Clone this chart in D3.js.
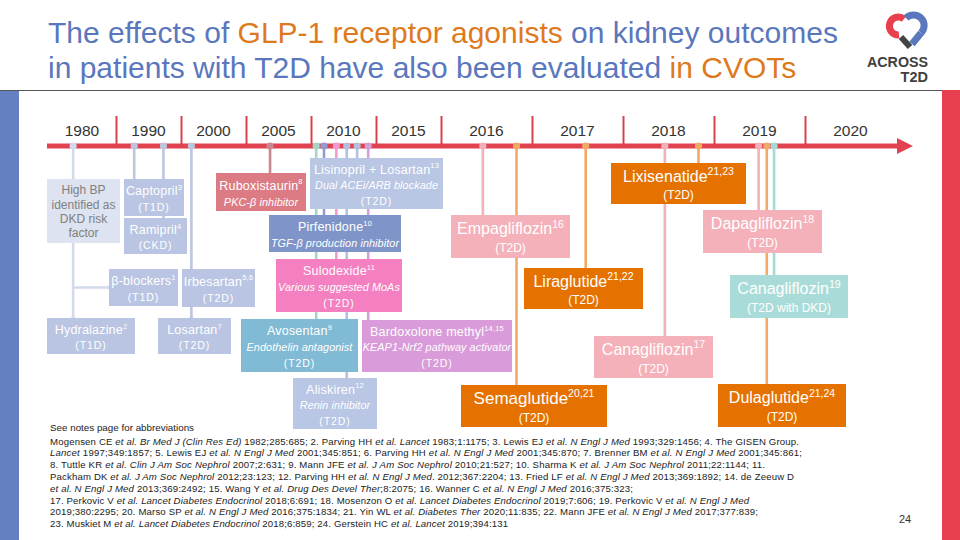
<!DOCTYPE html>
<html><head><meta charset="utf-8">
<script src="https://cdn.jsdelivr.net/npm/d3@7"></script>
<style>
body{margin:0;background:#fff}
svg{display:block;font-family:Arial,"Liberation Sans",sans-serif}
</style>
</head><body>
<svg id="c" width="960" height="540"></svg>
<script>
// ---------------- DATA ----------------
const periodLabels = ["1980","1990","2000","2005","2010","2015","2016","2017","2018","2019","2020"];
const periodBreaks = [1980,1990,2000,2005,2010,2015,2016,2017,2018,2019,2020,2021];

const drugNames = [
  "High BP\nidentified as\nDKD risk\nfactor","Captopril","Ramipril","β-blockers","Hydralazine",
  "Irbesartan","Losartan","Ruboxistaurin","Avosentan","Pirfenidone","Sulodexide","Aliskiren",
  "Lisinopril + Losartan","Bardoxolone methyl","Empagliflozin","Semaglutide","Liraglutide",
  "Canagliflozin","Lixisenatide","Dapagliflozin","Dulaglutide","Canagliflozin"
];
const drugRefs = ["","3","4","1","2","5,6","7","8","9","10","11","12","13","14,15","16","20,21","21,22","17","21,23","18","21,24","19"];
const drugMoA = ["","","","","","","","PKC-β inhibitor","Endothelin antagonist","TGF-β production inhibitor",
  "Various suggested MoAs","Renin inhibitor","Dual ACEi/ARB blockade","KEAP1-Nrf2 pathway activator",
  "","","","","","","",""];
const drugPopulation = ["","(T1D)","(CKD)","(T1D)","(T1D)","(T2D)","(T2D)","","(T2D)","","(T2D)","(T2D)",
  "(T2D)","(T2D)","(T2D)","(T2D)","(T2D)","(T2D)","(T2D)","(T2D)","(T2D)","(T2D with DKD)"];
const drugYears = [1983.7,1992.8,1997.3,null,null,2000.8,null,2006.85,2010.4,2011.0,2011.95,2012.75,
  2013.55,2014.4,2016.46,2016.83,2017.59,2018.46,2018.83,2019.49,2019.58,2019.66];
const drugParent = [-1,-1,-1,0,0,-1,5,-1,-1,-1,-1,-1,-1,-1,-1,-1,-1,-1,-1,-1,-1,-1];
const drugBranch = ["","","","side","below","","below","","","","","","","","","","","","","","",""];
const drugClass = ["risk","raas","raas","raas","raas","raas","raas","pkc","endothelin","tgf","glycan",
  "raas2","raas2","nrf2","sglt2","glp1","glp1","sglt2","glp1","sglt2","glp1","sglt2dkd"];

const footnoteLines = [
  "Mogensen CE *et al. Br Med J (Clin Res Ed)* 1982;285:685; 2. Parving HH *et al. Lancet* 1983;1:1175; 3. Lewis EJ *et al. N Engl J Med* 1993;329:1456; 4. The GISEN Group.",
  "*Lancet* 1997;349:1857; 5. Lewis EJ *et al. N Engl J Med* 2001;345:851; 6. Parving HH *et al. N Engl J Med* 2001;345:870; 7. Brenner BM *et al. N Engl J Med* 2001;345:861;",
  "8. Tuttle KR *et al. Clin J Am Soc Nephrol* 2007;2:631; 9. Mann JFE *et al. J Am Soc Nephrol* 2010;21:527; 10. Sharma K *et al. J Am Soc Nephrol* 2011;22:1144; 11.",
  "Packham DK *et al. J Am Soc Nephrol* 2012;23:123; 12. Parving HH *et al. N Engl J Med*. 2012;367:2204; 13. Fried LF *et al. N Engl J Med* 2013;369:1892; 14. de Zeeuw D",
  "*et al. N Engl J Med* 2013;369:2492; 15. Wang Y *et al. Drug Des Devel Ther*;8:2075; 16. Wanner C *et al. N Engl J Med* 2016;375:323;",
  "17. Perkovic V *et al. Lancet Diabetes Endocrinol* 2018;6:691; 18. Mosenzon O *et al. Lancet Diabetes Endocrinol* 2019;7:606; 19. Perkovic V *et al. N Engl J Med*",
  "2019;380:2295; 20. Marso SP *et al. N Engl J Med* 2016;375:1834; 21. Yin WL *et al. Diabetes Ther* 2020;11:835; 22. Mann JFE *et al. N Engl J Med* 2017;377:839;",
  "23. Muskiet M *et al. Lancet Diabetes Endocrinol* 2018;6:859; 24. Gerstein HC *et al. Lancet* 2019;394:131"
];

// ---------------- LAYOUT / STYLE ----------------
const periodEdges = [48,116,181,246,311,376,441,532,623,714,805,896];
const boxX = [47,124,124,109,47,182,158,216,241,269,276,293,310,362,451,461,524,594,611,703,718,730];
const boxY = [179,179,218,269,318,269,318,173,319,215,259,378,158,320,215,385,268,336,163,210,384,275];
const boxW = [73,60,63,69,88,73,73,90,117,132,126,84,133,150,119,146,119,119,135,119,128,118];
const boxH = [64,37,36,37,36,38,36,38,53,37,53,51,51,52,43,42,41,42,41,43,43,43];
const footWidths = [749,752,715,744,583,699,708,458];

const fillOf = {risk:"#dde3f0",raas:"#b9c5e2",pkc:"#dc7b84",endothelin:"#80bad4",tgf:"#7f95c9",glycan:"#f47fc1",
  raas2:"#b9c6e4",nrf2:"#d99bd9",sglt2:"#f5b1b9",glp1:"#e57200",sglt2dkd:"#a9dcd8"};
const lineOf = {risk:"#d3daeb",raas:"#bcc6e0",pkc:"#c98890",endothelin:"#a8d4c8",tgf:"#8d9fd2",glycan:"#f29bd0",
  raas2:"#b3c0df",nrf2:"#d3a0d8",sglt2:"#f2b0b9",glp1:"#f0aa66",sglt2dkd:"#a6dad6"};
const textOf = {risk:"#808080"};

const svg = d3.select("#c");
const TL = 146;

// frame
svg.append("rect").attr("x",0).attr("y",91).attr("width",19).attr("height",449).attr("fill","#6580c0");
svg.append("rect").attr("x",942).attr("y",90).attr("width",18).attr("height",450).attr("fill","#e8404e");
svg.append("line").attr("x1",0).attr("x2",942).attr("y1",90.5).attr("y2",90.5).attr("stroke","#555").attr("stroke-width",1.2);

// title
const blue="#5a77bd", orange="#de7a1e";
const t1 = svg.append("text").attr("x",48).attr("y",42.5).attr("font-size",30);
[["The effects of ",blue],["GLP-1 receptor agonists",orange],[" on kidney outcomes",blue]].forEach(s=>t1.append("tspan").attr("fill",s[1]).text(s[0]));
const t2 = svg.append("text").attr("x",48).attr("y",77.5).attr("font-size",30);
[["in patients with T2D have also been evaluated ",blue],["in CVOTs",orange]].forEach(s=>t2.append("tspan").attr("fill",s[1]).text(s[0]));

// logo
const lg = svg.append("g");
lg.append("path").attr("d","M904,19 A9,9 0 1,0 899,35").attr("fill","none").attr("stroke","#e8404e").attr("stroke-width",7);
lg.append("path").attr("d","M906,18 A9.5,9.5 0 0,1 921,33").attr("fill","none").attr("stroke","#5a77bd").attr("stroke-width",7);
lg.append("path").attr("d","M921,33 L912,44").attr("fill","none").attr("stroke","#5a77bd").attr("stroke-width",7);
lg.append("path").attr("d","M901,37 L910,47").attr("fill","none").attr("stroke","#444").attr("stroke-width",6);
lg.append("text").attr("x",928).attr("y",67).attr("text-anchor","end").attr("font-size",14.5).attr("font-weight","bold").attr("fill","#404040").attr("textLength",61).attr("lengthAdjust","spacingAndGlyphs").text("ACROSS");
lg.append("text").attr("x",928).attr("y",81.5).attr("text-anchor","end").attr("font-size",14.5).attr("font-weight","bold").attr("fill","#404040").text("T2D");

// timeline scale
const x = d3.scaleLinear().domain(periodBreaks).range(periodEdges);
svg.append("line").attr("x1",47).attr("x2",900).attr("y1",TL).attr("y2",TL).attr("stroke","#e0434f").attr("stroke-width",5);
svg.append("path").attr("d","M897,138 L913,146 L897,154 Z").attr("fill","#e0434f");

const ax = svg.append("g").attr("transform",`translate(0,${TL})`)
  .call(d3.axisTop(x).tickValues(periodBreaks.slice(1,11)).tickSize(30).tickFormat(""));
ax.select(".domain").remove();
ax.selectAll(".tick line").attr("stroke","#d7424f").attr("stroke-width",2);

svg.selectAll("text.yr").data(periodLabels).join("text").attr("class","yr")
  .attr("x",(d,i)=>(x(periodBreaks[i])+x(periodBreaks[i+1]))/2).attr("y",136)
  .attr("text-anchor","middle").attr("font-size",15.5).attr("fill","#333").text(d=>d);

// connectors
const conn = svg.append("g");
drugNames.forEach((n,i)=>{
  if(drugYears[i]==null) return;
  const px = x(drugYears[i]);
  let yEnd = boxY[i];
  drugNames.forEach((m,j)=>{ if(drugParent[j]===i && drugBranch[j]==="below") yEnd = Math.max(yEnd, boxY[j]); });
  const col = lineOf[drugClass[i]];
  conn.append("line").attr("x1",px).attr("x2",px).attr("y1",TL).attr("y2",yEnd).attr("stroke",col).attr("stroke-width",2.6);
  drugNames.forEach((m,j)=>{
    if(drugParent[j]!==i) return;
    if(drugBranch[j]==="side"){
      const yy = boxY[j]+boxH[j]/2;
      conn.append("line").attr("x1",px).attr("x2",boxX[j]).attr("y1",yy).attr("y2",yy).attr("stroke",col).attr("stroke-width",2.6);
      conn.append("circle").attr("cx",boxX[j]).attr("cy",yy).attr("r",2).attr("fill",col);
    } else {
      conn.append("circle").attr("cx",px).attr("cy",boxY[j]).attr("r",2).attr("fill",col);
    }
  });
});
// pins
drugNames.forEach((n,i)=>{
  if(drugYears[i]==null) return;
  svg.append("circle").attr("cx",x(drugYears[i])).attr("cy",TL).attr("r",3.6).attr("fill",lineOf[drugClass[i]]);
});

// boxes
const fr = {1:[0.5],2:[0.32,0.77],3:[0.22,0.53,0.84],4:[0.17,0.40,0.62,0.84]};
drugNames.forEach((name,i)=>{
  const cls = drugClass[i];
  const big = i>=14;
  const g = svg.append("g");
  g.append("rect").attr("x",boxX[i]).attr("y",boxY[i]).attr("width",boxW[i]).attr("height",boxH[i]).attr("fill",fillOf[cls]);
  const lines=[];
  const parts = name.split("\n");
  parts.forEach((p,k)=>lines.push({t:p,kind:"name",sup:k===parts.length-1?drugRefs[i]:""}));
  if(drugMoA[i]) lines.push({t:drugMoA[i],kind:"moa"});
  if(drugPopulation[i]) lines.push({t:drugPopulation[i],kind:"pop"});
  const f = fr[lines.length];
  const cx = boxX[i]+boxW[i]/2;
  const tc = textOf[cls]||"#fff";
  lines.forEach((L,k)=>{
    let fs, ls=0, it=false;
    if(i===0){fs=12;}
    else if(L.kind==="name"){fs = big ? (i===15?17:16) : 12.5; ls = big?0:0.2;}
    else if(L.kind==="moa"){fs=10.8; it=true; ls=0.1;}
    else {fs = big?12:10.5; ls = big?0:0.9;}
    const yc = boxY[i]+boxH[i]*f[k];
    const t = g.append("text").attr("x",cx).attr("y",yc+fs*0.35).attr("text-anchor","middle")
      .attr("font-size",fs).attr("fill",tc).attr("letter-spacing",ls);
    if(it) t.attr("font-style","italic");
    t.append("tspan").text(L.t);
    if(L.sup){
      const ss = big?10.5:7.5;
      t.append("tspan").attr("font-size",ss).attr("dy",-(fs*0.42)).text(L.sup);
    }
  });
});

// footnotes
svg.append("text").attr("x",50).attr("y",430.5).attr("font-size",9.8).attr("fill","#222")
  .attr("textLength",144).attr("lengthAdjust","spacing").text("See notes page for abbreviations");
footnoteLines.forEach((ln,k)=>{
  const t = svg.append("text").attr("x",50).attr("y",444.5+k*11.8).attr("font-size",9.6).attr("fill","#222")
    .attr("textLength",footWidths[k]).attr("lengthAdjust","spacing");
  ln.split("*").forEach((seg,j)=>{ if(seg) t.append("tspan").attr("font-style",j%2?"italic":"normal").text(seg); });
});
svg.append("text").attr("x",905).attr("y",523).attr("text-anchor","middle").attr("font-size",11).attr("fill","#333").text("24");
</script>
</body></html>
